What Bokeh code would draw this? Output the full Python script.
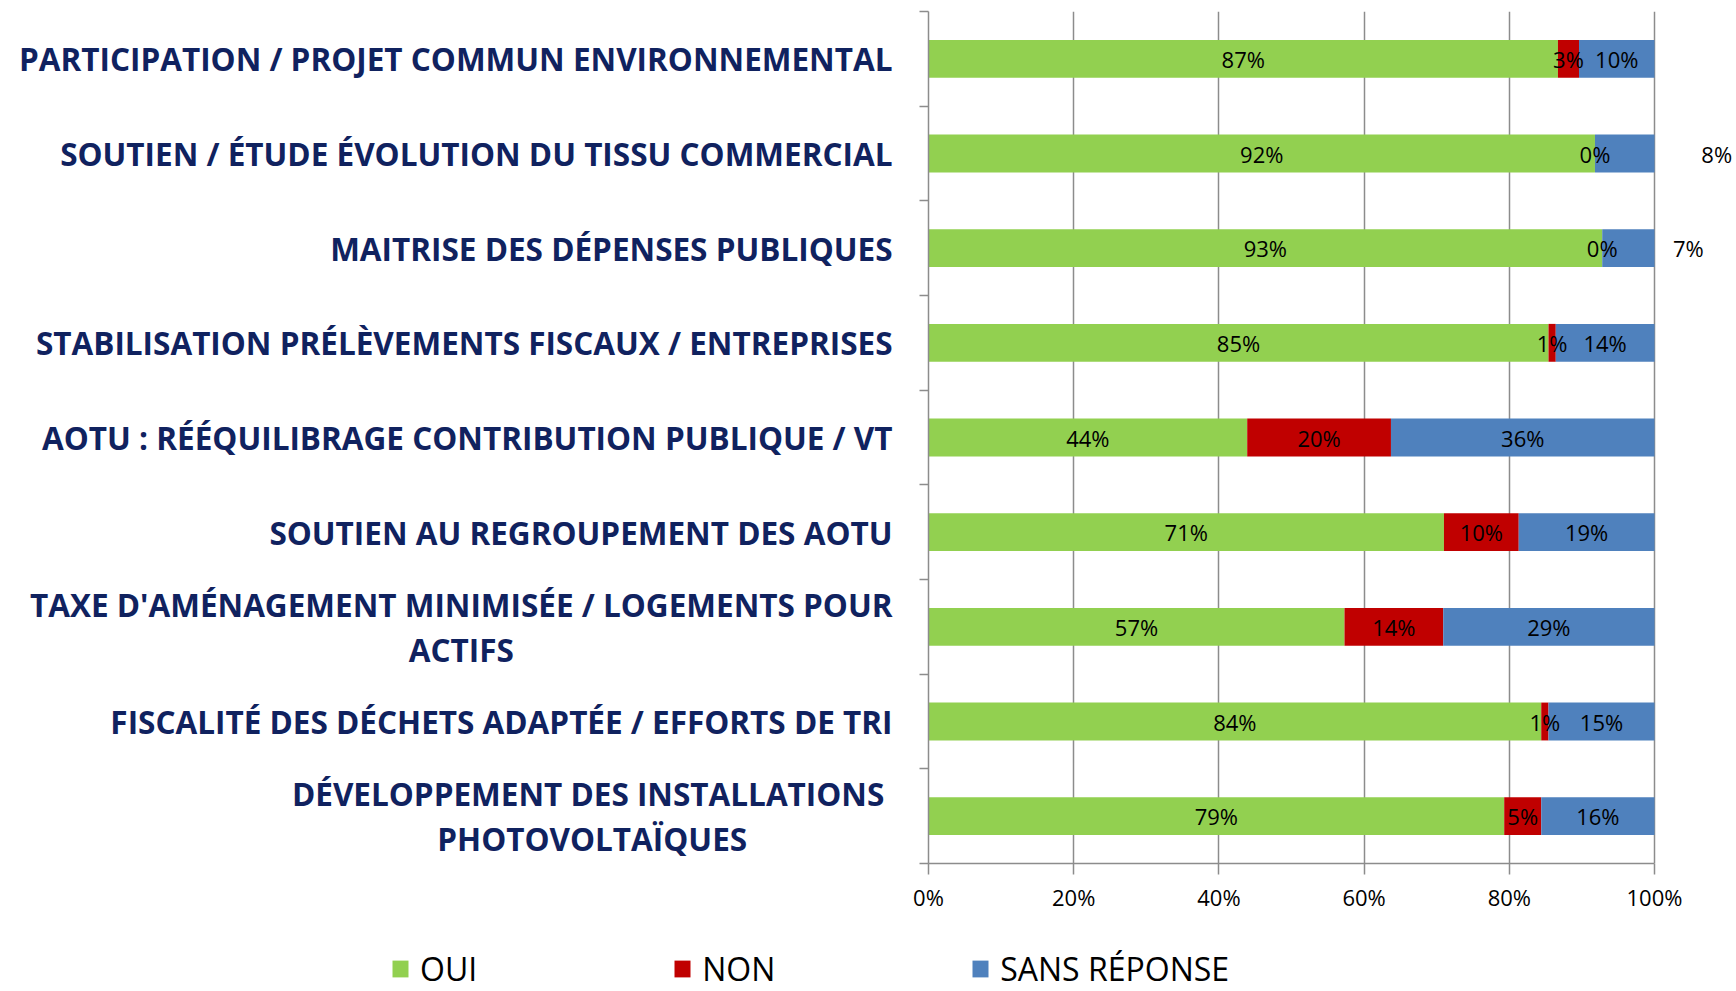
from bokeh.plotting import figure
from bokeh.layouts import row, column
from bokeh.models import (ColumnDataSource, FixedTicker, LabelSet, Legend, LegendItem, Range1d)
from bokeh.core.properties import value
from bokeh.embed import file_html
from bokeh.resources import INLINE

categories = [
    "PARTICIPATION / PROJET COMMUN ENVIRONNEMENTAL",
    "SOUTIEN / ÉTUDE ÉVOLUTION DU TISSU COMMERCIAL",
    "MAITRISE DES DÉPENSES PUBLIQUES",
    "STABILISATION PRÉLÈVEMENTS FISCAUX / ENTREPRISES",
    "AOTU : RÉÉQUILIBRAGE CONTRIBUTION PUBLIQUE / VT",
    "SOUTIEN AU REGROUPEMENT DES AOTU",
    "TAXE D'AMÉNAGEMENT MINIMISÉE / LOGEMENTS POUR\nACTIFS",
    "FISCALITÉ DES DÉCHETS ADAPTÉE / EFFORTS DE TRI",
    "DÉVELOPPEMENT DES INSTALLATIONS \nPHOTOVOLTAÏQUES",
]
oui = [86.7, 91.8, 92.8, 85.4, 43.9, 71.0, 57.3, 84.4, 79.3]
non = [2.9, 0.0, 0.0, 1.0, 19.8, 10.3, 13.6, 1.0, 5.1]
sans = [10.4, 8.2, 7.2, 13.6, 36.3, 18.7, 29.1, 14.6, 15.6]
series_names = ["OUI", "NON", "SANS RÉPONSE"]
x_ticks = [0, 20, 40, 60, 80, 100]
x_tick_labels = ["0%", "20%", "40%", "60%", "80%", "100%"]

colors = ["#92D050", "#C00000", "#4F81BD"]
# pixel nudges of a few data labels that sit outside their bar in the original
label_nudge_px = {1: {2: 92}, 2: {2: 60}}

n = len(categories)
ys = [n - i - 0.5 for i in range(n)]

TOP, BOTTOM = 11, 62
MAIN_H = 925
LABEL_W = 908
MAIN_W = 1736 - LABEL_W
FRAME_LEFT_PAD = 20
PLOT_PX_100 = 726  # pixels for 0..100 %
x_end = 100.0 * (MAIN_W - FRAME_LEFT_PAD) / PLOT_PX_100

axis_gray = "#8c8c8c"
font = "Open Sans"

# ---------------- main chart ----------------
src = ColumnDataSource(dict(y=ys, oui=oui, non=non, sans=sans))

p = figure(width=MAIN_W, height=MAIN_H, x_range=Range1d(0, x_end), y_range=Range1d(0, n),
           output_backend="svg", toolbar_location=None,
           min_border_left=FRAME_LEFT_PAD, min_border_right=0,
           min_border_top=TOP, min_border_bottom=BOTTOM)
p.outline_line_color = None
p.background_fill_color = "white"

renderers = p.hbar_stack(["oui", "non", "sans"], y="y", height=0.4, color=colors,
                         line_color=None, source=src)

series = [oui, non, sans]
lx, ly, lt, lo = [], [], [], []
for i in range(n):
    start = 0.0
    for s, vals in enumerate(series):
        v = vals[i]
        lx.append(start + v / 2.0)
        ly.append(ys[i])
        lt.append(f"{v:.0f}%")
        lo.append(label_nudge_px.get(i, {}).get(s, 0))
        start += v
lsrc = ColumnDataSource(dict(x=lx, y=ly, t=lt, o=lo))
p.add_layout(LabelSet(x="x", y="y", text="t", x_offset="o", source=lsrc,
                      text_align="center", text_baseline="middle",
                      text_font=value(font), text_font_size="22px", text_color="#000000"))

p.xaxis.ticker = FixedTicker(ticks=x_ticks, minor_ticks=[])
p.xaxis.bounds = (0, 100)
p.xaxis.major_label_overrides = {t: l for t, l in zip(x_ticks, x_tick_labels)}
p.xaxis.major_tick_out = 11
p.xaxis.major_tick_in = 0
p.xaxis.minor_tick_out = 0
p.xaxis.axis_line_color = axis_gray
p.xaxis.axis_line_width = 1.5
p.xaxis.major_tick_line_color = axis_gray
p.xaxis.major_tick_line_width = 1.5
p.xaxis.major_label_text_font = font
p.xaxis.major_label_text_font_size = "22px"
p.xaxis.major_label_text_color = "#000000"
p.xaxis.major_label_standoff = 7

p.xgrid.ticker = FixedTicker(ticks=x_ticks)
p.xgrid.grid_line_color = axis_gray
p.xgrid.grid_line_width = 1.5
p.ygrid.grid_line_color = None

# y axis: only small ticks at the category boundaries
p.yaxis.ticker = FixedTicker(ticks=[], minor_ticks=list(range(n + 1)))
p.yaxis.major_tick_out = 0
p.yaxis.major_tick_in = 0
p.yaxis.minor_tick_out = 9
p.yaxis.minor_tick_in = 0
p.yaxis.minor_tick_line_color = axis_gray
p.yaxis.minor_tick_line_width = 1.5
p.yaxis.axis_line_color = axis_gray
p.yaxis.axis_line_width = 1.5

# ---------------- category labels ----------------
lab = figure(width=LABEL_W, height=MAIN_H, x_range=Range1d(0, LABEL_W), y_range=Range1d(0, n),
             output_backend="svg", toolbar_location=None,
             x_axis_location=None, y_axis_location=None,
             min_border_left=0, min_border_right=0, min_border_top=TOP, min_border_bottom=BOTTOM)
lab.outline_line_color = None
lab.grid.grid_line_color = None
csrc = ColumnDataSource(dict(x=[LABEL_W - 16] * n, y=ys, t=categories))
lab.text(x="x", y="y", text="t", source=csrc, anchor=value("center_right"),
         text_align="center", text_baseline="middle", text_line_height=1.04,
         text_font=value(font), text_font_style="bold", text_font_size="31.5px",
         text_color="#10225f")

# ---------------- legend ----------------
LEG_H = 991 - MAIN_H
leg = figure(width=1736, height=LEG_H, x_range=Range1d(0, 1736), y_range=Range1d(0, LEG_H),
             output_backend="svg", toolbar_location=None,
             x_axis_location=None, y_axis_location=None,
             min_border_left=0, min_border_right=0, min_border_top=0, min_border_bottom=0)
leg.outline_line_color = None
leg.grid.grid_line_color = None
# swatch renderers kept out of view; they only supply the legend colours
leg_r = [leg.rect(x=[-100], y=[-100], width=1, height=1, color=c, line_color=None)
         for c in colors]
legend = Legend(items=[LegendItem(label=nm, renderers=[r]) for nm, r in zip(series_names, leg_r)],
                orientation="horizontal", location=(390, 1), spacing=195,
                glyph_width=20, glyph_height=21, label_standoff=10,
                label_text_font=font, label_text_font_size="32px",
                label_text_color="#000000", padding=0, margin=0,
                border_line_color=None, background_fill_alpha=0)
leg.add_layout(legend)

layout = column(row(lab, p), leg)
open("out.html", "w").write(file_html(layout, INLINE))
